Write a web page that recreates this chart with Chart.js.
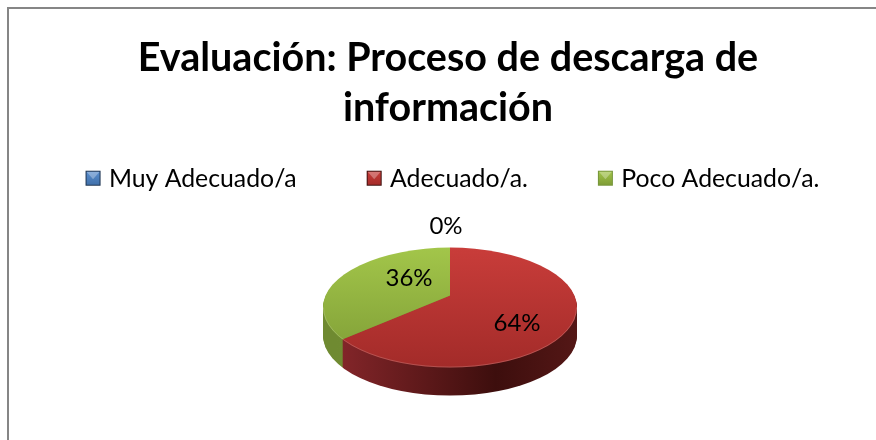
<!DOCTYPE html>
<html>
<head>
<meta charset="utf-8">
<title>Evaluación</title>
<script src="https://cdn.jsdelivr.net/npm/chart.js@4/dist/chart.umd.min.js"></script>
<style>
  html, body { margin: 0; padding: 0; background: #fff; overflow: hidden; }
  #frame { position: absolute; left: 7px; top: 7px; right: 0; bottom: 0; border-left: 2px solid #868686; border-top: 2px solid #868686; }
  #wrap { position: absolute; left: 10px; top: 0; width: 876px; height: 440px; }
</style>
</head>
<body>
<div id="frame"></div>
<div id="wrap"><canvas id="pie"></canvas></div>
<script>
const titleLines = ['Evaluación: Proceso de descarga de', 'información'];
const categories = ['Muy Adecuado/a', 'Adecuado/a.', 'Poco Adecuado/a.'];
const values = [0, 64, 36];
const baseColors = ['#4f81bd', '#c0504d', '#9bbb59'];

const FONT = 'Lato, Carlito, sans-serif';

// look of the tilted pie
const TILT = 0.493;
const RIM_X = 127, RIM_Y = 60, RIM_DROP = 12;
const DEPTH = 28;
const PIE_SHIFT = 2, LEGEND_SHIFT = 5;

// top face and side colours per slice: [top, bottom] and [left, mid, right]
const faceStops = [['#5b8fd0', '#3f6fa8'], ['#c93d3a', '#a32b29'], ['#a3c64a', '#7d9b35']];
const sideStops = [['#2c4d75', '#1c3350', '#244060'], ['#85262a', '#3d0e0d', '#541716'], ['#6f8a31', '#76953a', '#7f9e3c']];

// label spots relative to the pie centre
const labelSpots = [[-4, -69], [67, 28], [-41, -17]];

const tiltedPie = {
  id: 'tiltedPie',
  afterLayout(chart) {
    // nudge the legend, the layout only centres it
    chart.legend.left += LEGEND_SHIFT;
    chart.legend.right += LEGEND_SHIFT;
  },
  beforeDatasetsDraw(chart) {
    const ctx = chart.ctx;
    const arcs = chart.getDatasetMeta(0).data;
    const cx = arcs[0].x, cy = arcs[0].y;
    const setFill = (fn) => arcs.forEach((arc, i) => { arc.options.backgroundColor = fn(i); });

    ctx.save();
    ctx.translate(PIE_SHIFT, 0);

    const layer = (drop) => {
      ctx.save();
      ctx.beginPath();
      ctx.ellipse(cx, cy + RIM_DROP + drop, RIM_X, RIM_Y, 0, 0, Math.PI * 2);
      ctx.clip();
      ctx.translate(cx, cy + drop);
      ctx.scale(1, TILT);
      ctx.translate(-cx, -cy);
      arcs.forEach((arc) => arc.draw(ctx));
      ctx.restore();
    };

    // side wall, stacked from the bottom up
    setFill((i) => {
      const g = ctx.createLinearGradient(cx - RIM_X, 0, cx + RIM_X, 0);
      g.addColorStop(0.05, sideStops[i][0]);
      g.addColorStop(0.68, sideStops[i][1]);
      g.addColorStop(1, sideStops[i][2]);
      return g;
    });
    for (let k = DEPTH; k >= 1; k--) layer(k);

    // top face
    setFill((i) => {
      const g = ctx.createLinearGradient(0, cy - 100, 0, cy + 146);
      g.addColorStop(0, faceStops[i][0]);
      g.addColorStop(1, faceStops[i][1]);
      return g;
    });
    layer(0);

    // thin light bevel on the rim
    ctx.beginPath();
    ctx.ellipse(cx, cy + RIM_DROP, RIM_X - 0.5, RIM_Y - 0.5, 0, 0, Math.PI);
    ctx.strokeStyle = 'rgba(255,255,255,0.18)';
    ctx.lineWidth = 1;
    ctx.stroke();

    // percent labels
    ctx.font = '24px ' + FONT;
    ctx.fillStyle = '#000';
    ctx.textAlign = 'center';
    ctx.textBaseline = 'middle';
    values.forEach((v, i) => {
      ctx.fillText(v + '%', cx + labelSpots[i][0], cy + labelSpots[i][1]);
    });
    ctx.restore();
    return false;
  },
  afterDraw(chart) {
    // bevelled legend squares
    const ctx = chart.ctx;
    chart.legend.legendHitBoxes.forEach((box, i) => {
      const x = box.left - 1, y = box.top + box.height / 2 - 8, s = 15;
      ctx.save();
      const g = ctx.createLinearGradient(0, y, 0, y + s);
      g.addColorStop(0, faceStops[i][0]);
      g.addColorStop(1, faceStops[i][1]);
      ctx.fillStyle = sideStops[i][1];
      ctx.fillRect(x, y, s, s);
      ctx.fillStyle = g;
      ctx.fillRect(x + 1, y + 1, s - 2, s - 2);
      ctx.beginPath();
      ctx.moveTo(x + 1, y + 1);
      ctx.lineTo(x + s - 1, y + 1);
      ctx.lineTo(x + s / 2, y + s / 2 + 1);
      ctx.closePath();
      ctx.fillStyle = 'rgba(255,255,255,0.3)';
      ctx.fill();
      ctx.restore();
    });
  }
};

new Chart(document.getElementById('pie'), {
  type: 'pie',
  data: {
    labels: categories,
    datasets: [{ data: values, backgroundColor: baseColors.slice(), borderWidth: 0 }]
  },
  plugins: [tiltedPie],
  options: {
    responsive: true,
    maintainAspectRatio: false,
    animation: false,
    radius: 220,
    layout: { padding: { left: 0, right: 0, top: 0, bottom: 50 } },
    plugins: {
      title: {
        display: true,
        text: titleLines,
        color: '#000',
        font: { family: FONT, size: 39.5, weight: 'bold', lineHeight: 1.27 },
        padding: { top: 33, bottom: -38 }
      },
      legend: {
        position: 'top',
        labels: {
          color: '#000',
          font: { family: FONT, size: 24.8 },
          boxWidth: 10,
          boxHeight: 10,
          padding: 71,
          generateLabels: (chart) => categories.map((name, i) => ({
            text: name, fillStyle: 'rgba(0,0,0,0)', strokeStyle: 'rgba(0,0,0,0)', lineWidth: 0, index: i
          }))
        }
      },
      tooltip: { enabled: false }
    }
  }
});
</script>
</body>
</html>
